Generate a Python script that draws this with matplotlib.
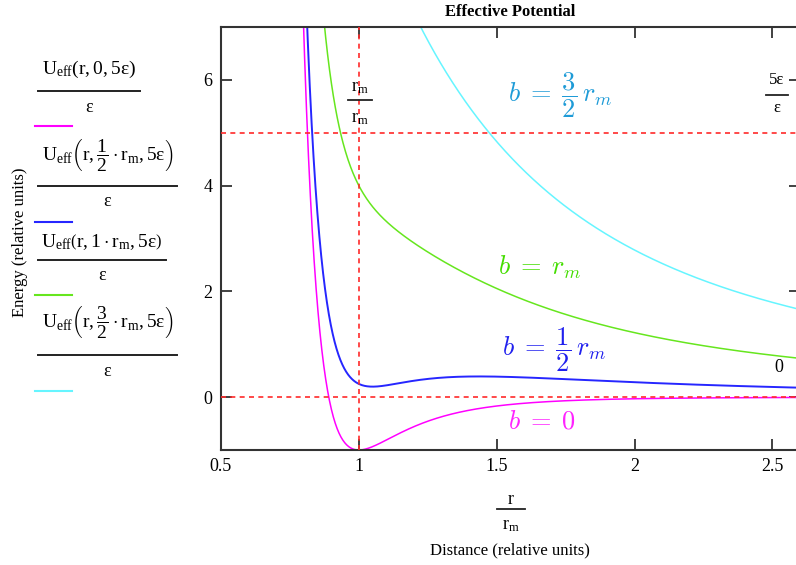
import numpy as np
import matplotlib
matplotlib.use("Agg")
import matplotlib.pyplot as plt
from matplotlib.lines import Line2D
from matplotlib.ticker import FormatStrFormatter

plt.rcParams["font.family"] = ["Liberation Serif", "DejaVu Serif"]
plt.rcParams["mathtext.fontset"] = "custom"
plt.rcParams["mathtext.rm"] = "Liberation Serif"
plt.rcParams["mathtext.it"] = "Liberation Serif"
plt.rcParams["mathtext.bf"] = "Liberation Serif:bold"

# ---- model parameters (Lennard-Jones well, relative units) ----
impact_params = [0.0, 0.5, 1.0, 1.5]          # b / r_m
energy = 5.0                                   # E / epsilon
curve_colors = ["#ff00ff", "#2626ff", "#66e61e", "#66f5ff"]
curve_widths = [1.1, 1.4, 1.1, 1.1]
label_texts = [r"$b\;=\;0$", r"$b\;=\;\dfrac{1}{2}\,r_m$",
               r"$b\;=\;r_m$", r"$b\;=\;\dfrac{3}{2}\,r_m$"]
label_colors = ["#ff22ff", "#2020ee", "#44dd00", "#1e9bd7"]
label_pos = [(1.54, -0.47), (1.52, 0.89), (1.505, 2.46), (1.54, 5.71)]
ref_levels_y = [0.0, 5.0]
ref_level_x = 1.0
x_ticks = [0.5, 1.0, 1.5, 2.0, 2.5]
y_ticks = [0, 2, 4, 6]
legend_numerators = [
    r"$\mathrm{U_{eff}(r,0,5\varepsilon)}$",
    r"$\mathrm{U_{eff}}\left(\mathrm{r},\dfrac{1}{2}\cdot\mathrm{r_m},5\varepsilon\right)$",
    r"$\mathrm{U_{eff}}\left(\mathrm{r},1\cdot\mathrm{r_m},5\varepsilon\right)$",
    r"$\mathrm{U_{eff}}\left(\mathrm{r},\dfrac{3}{2}\cdot\mathrm{r_m},5\varepsilon\right)$",
]


def u_eff(r, b, e):
    return r ** -12 - 2.0 * r ** -6 + e * b ** 2 / r ** 2


W, H = 796, 565
fig = plt.figure(figsize=(W / 100, H / 100), dpi=100)
ax = fig.add_axes([221 / W, (H - 450) / H, (800 - 221) / W, (450 - 27) / H])

r = np.linspace(0.75, 2.6, 800)
for b, c, lw in zip(impact_params, curve_colors, curve_widths):
    ax.plot(r, u_eff(r, b, energy), color=c, lw=lw, zorder=2)

red = "#ff2a2a"
for yv in ref_levels_y:
    ax.axhline(yv, color=red, lw=1.2, dashes=(3, 2.6), zorder=3)
ax.axvline(ref_level_x, color=red, lw=1.2, dashes=(3, 2.6), zorder=3)

for (x, y), s, c in zip(label_pos, label_texts, label_colors):
    ax.text(x, y, s, color=c, fontsize=19, ha="left", va="center",
            math_fontfamily="cm")

ax.set_xlim(0.5, 2.6)
ax.set_ylim(-1, 7)
ax.set_xticks(x_ticks)
ax.set_yticks(y_ticks)
ax.xaxis.set_major_formatter(FormatStrFormatter("%g"))
ax.tick_params(direction="in", length=8, width=1.3, top=True, right=True,
               labelsize=13, color="#333333", pad=6)
for sp in ax.spines.values():
    sp.set_color("#333333")
    sp.set_linewidth(1.5)


# ---- figure-level annotations in pixel layout ----
def ftext(x, y, s, **kw):
    kw.setdefault("ha", "center")
    kw.setdefault("va", "center")
    fig.text(x / W, 1 - y / H, s, **kw)


def fline(x0, x1, y, color="#222222", lw=1.3):
    fig.add_artist(Line2D([x0 / W, x1 / W], [1 - y / H, 1 - y / H],
                          transform=fig.transFigure, color=color, lw=lw))


ftext(510, 12, "Effective Potential", fontsize=12, fontweight="bold")
ftext(20, 242, "Energy (relative units)", fontsize=12, rotation=90)

# x-axis quantity r / r_m
ftext(511, 499, r"$\mathrm{r}$", fontsize=13)
fline(497, 525, 509)
ftext(511, 525, r"$\mathrm{r_m}$", fontsize=13)
ftext(510, 550, "Distance (relative units)", fontsize=12)

# marker labels
ftext(360, 87, r"$\mathrm{r_m}$", fontsize=13)
fline(348, 372, 100)
ftext(360, 118, r"$\mathrm{r_m}$", fontsize=13)
ftext(777, 80, "5ε", fontsize=12)
fline(766, 788, 95)
ftext(777, 108, "ε", fontsize=12)
ftext(779, 368, "0", fontsize=13)

# trace legend
num_y = [69, 156, 242, 323]
bar_y = [91, 186, 260, 355]
bar_x1 = [140, 177, 166, 177]
sample_y = [126, 222, 295, 391]
for s, ny, by, bx1, sy, c in zip(legend_numerators, num_y, bar_y, bar_x1,
                                  sample_y, curve_colors):
    cx = (38 + bx1) / 2
    ftext(cx, ny, s, fontsize=14)
    fline(38, bx1, by, lw=1.4)
    ftext(cx, by + 16, "ε", fontsize=13)
    fline(35, 72, sy, color=c, lw=1.5)

fig.savefig("out.png", dpi=100)
